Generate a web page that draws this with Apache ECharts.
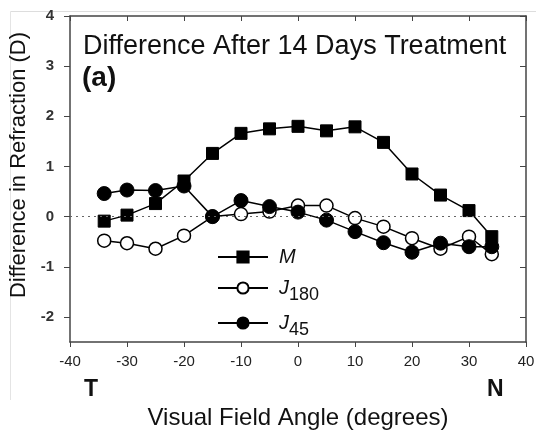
<!DOCTYPE html>
<html><head><meta charset="utf-8">
<script src="https://cdn.jsdelivr.net/npm/echarts@6/dist/echarts.min.js"></script>
<style>html,body{margin:0;padding:0;background:#fff}#c{width:536px;height:437px}</style>
</head><body><div id="c"></div>
<script>
const angles = [-34,-30,-25,-20,-15,-10,-5,0,5,10,15,20,25,30,34];
const M    = [-0.09,0.03,0.26,0.71,1.26,1.66,1.75,1.80,1.71,1.79,1.48,0.85,0.43,0.12,-0.40];
const J180 = [-0.48,-0.53,-0.64,-0.38,0.0,0.05,0.10,0.22,0.22,-0.03,-0.20,-0.43,-0.64,-0.40,-0.75];
const J45  = [0.46,0.53,0.52,0.61,0.0,0.32,0.20,0.09,-0.07,-0.30,-0.52,-0.71,-0.53,-0.60,-0.60];
const yTicks = [-2,-1,0,1,2,3,4];
const xTicks = [-40,-30,-20,-10,0,10,20,30,40];

const pair = (ys) => angles.map((a,i)=>[a,ys[i]]);
const F = 'Liberation Sans, Arial, sans-serif';
const axisColor = '#444';
const chart = echarts.init(document.getElementById('c'), null, {renderer:'canvas'});
const baseX = {type:'value', min:-40, max:40, interval:10, splitLine:{show:false},
  axisLine:{onZero:false, lineStyle:{color:axisColor, width:1.5}}};
const baseY = {type:'value', min:-2.5, max:4, splitLine:{show:false},
  axisLine:{onZero:false, lineStyle:{color:axisColor, width:1.5}}};
const rich = {
  i:{fontFamily:F, fontSize:20, fontStyle:'italic', color:'#111', padding:[0,0,0,6]},
  s:{fontFamily:F, fontSize:18, color:'#111', padding:[14,0,0,0]}
};
const mkLegend = (name, top) => ({
  orient:'vertical', left:217, top:top, itemWidth:50, itemHeight:14, padding:0,
  data:[name],
  formatter:(n)=> n==='M' ? '{i|M}' : '{i|J}{s|'+n.slice(1)+'}',
  textStyle:{fontFamily:F, rich:rich}
});
chart.setOption({
  animation:false,
  backgroundColor:'#fff',
  grid:{left:70, right:10, top:16, bottom:95, outerBoundsMode:'none', containLabel:false},
  title:[
    {text:'Difference After 14 Days Treatment', left:83, top:33, padding:0,
     textStyle:{fontFamily:F, fontSize:27, fontWeight:'normal', color:'#111'}},
    {text:'(a)', left:82, top:64, padding:0,
     textStyle:{fontFamily:F, fontSize:28, fontWeight:'bold', color:'#111'}}
  ],
  legend:[mkLegend('M', 247), mkLegend('J180', 278), mkLegend('J45', 313)],
  xAxis:[
    Object.assign({}, baseX, {position:'bottom',
      axisTick:{show:true, inside:false, length:5, lineStyle:{color:axisColor}, customValues:xTicks},
      axisLabel:{fontFamily:F, fontSize:15, color:'#222', margin:12, customValues:xTicks},
      name:'Visual Field Angle (degrees)', nameLocation:'middle', nameGap:64,
      nameTextStyle:{fontFamily:F, fontSize:24, color:'#111'}}),
    Object.assign({}, baseX, {position:'top',
      axisTick:{show:true, inside:true, length:5, lineStyle:{color:axisColor}},
      axisLabel:{show:false}})
  ],
  yAxis:[
    Object.assign({}, baseY, {position:'left',
      axisTick:{show:true, inside:false, length:6, lineStyle:{color:axisColor}, customValues:yTicks},
      axisLabel:{fontFamily:F, fontSize:15, fontWeight:'bold', color:'#333', margin:16, customValues:yTicks},
      name:'Difference in Refraction (D)', nameLocation:'middle', nameGap:38,
      nameTextStyle:{fontFamily:F, fontSize:22, color:'#111', padding:[0,0,0,28]}}),
    Object.assign({}, baseY, {position:'right',
      axisTick:{show:true, inside:true, length:6, lineStyle:{color:axisColor}, customValues:yTicks},
      axisLabel:{show:false}})
  ],
  series:[
    {name:'J180', type:'line', data:pair(J180), symbol:'circle', symbolSize:13,
     lineStyle:{color:'#000', width:1.5}, itemStyle:{color:'#fff', borderColor:'#000', borderWidth:1.5}, z:2,
     markLine:{silent:true, symbol:'none', label:{show:false},
       lineStyle:{color:'#666', type:[2,4], width:1.2}, data:[{yAxis:0}]}},
    {name:'J45', type:'line', data:pair(J45), symbol:'circle', symbolSize:14,
     lineStyle:{color:'#000', width:1.5}, itemStyle:{color:'#000', borderColor:'#000', borderWidth:1}, z:3},
    {name:'M', type:'line', data:pair(M), symbol:'rect', symbolSize:12,
     lineStyle:{color:'#000', width:1.5}, itemStyle:{color:'#000', borderColor:'#000', borderWidth:1}, z:4}
  ],
  graphic:[
    {type:'text', left:84, top:378, style:{text:'T', font:'bold 23px '+F, fill:'#111'}},
    {type:'text', left:487, top:378, style:{text:'N', font:'bold 23px '+F, fill:'#111'}},
    {type:'line', shape:{x1:10.5,y1:11.5,x2:536,y2:11.5}, style:{stroke:'#ddd', lineWidth:1}},
    {type:'line', shape:{x1:10.5,y1:11.5,x2:10.5,y2:400}, style:{stroke:'#e4e4e4', lineWidth:1}}
  ]
});
</script></body></html>
